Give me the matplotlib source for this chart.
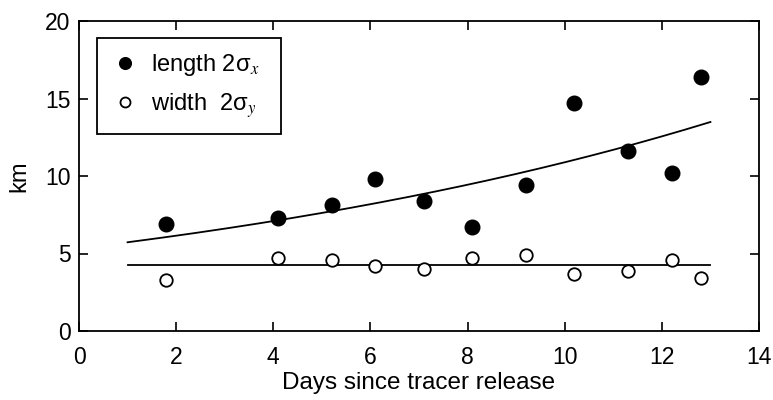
import numpy as np
import matplotlib
matplotlib.use("Agg")
import matplotlib.pyplot as plt

plt.rcParams['font.family'] = ['Liberation Sans', 'DejaVu Sans']
plt.rcParams['mathtext.fontset'] = 'stix'

# days since release
days = [1.8, 4.1, 5.2, 6.1, 7.1, 8.1, 9.2, 10.2, 11.3, 12.2, 12.8]
length_km = [6.9, 7.3, 8.1, 9.8, 8.4, 6.7, 9.4, 14.7, 11.6, 10.2, 16.4]
width_km = [3.3, 4.7, 4.6, 4.2, 4.0, 4.7, 4.9, 3.7, 3.9, 4.6, 3.4]

# fitted curves
fit_days = [1, 13]
length_fit_a = 5.33      # km
length_fit_b = 0.0714    # 1/day
width_fit = 4.25         # km

fig = plt.figure(figsize=(7.73, 4.0), dpi=100)
ax = fig.add_axes([79/773, 1 - 331/400, 680/773, 310/400])

t = np.linspace(fit_days[0], fit_days[1], 200)
ax.plot(t, length_fit_a*np.exp(length_fit_b*t), color='k', lw=1.3)
ax.plot(fit_days, [width_fit, width_fit], color='k', lw=1.3)

ax.plot(days, length_km, 'o', color='k', ms=10.5, label='length 2σ$_{x}$  ')
ax.plot(days, width_km, 'o', mfc='white', mec='k', mew=1.3, ms=9, label='width  2σ$_{y}$  ')

ax.set_xlim(0, 14)
ax.set_ylim(0, 20)
ax.set_xticks(range(0, 15, 2))
ax.set_yticks(range(0, 21, 5))
ax.tick_params(direction='in', top=True, right=True, labelsize=16.5, length=6.5, width=1.2)
ax.tick_params(axis='x', pad=11)
ax.tick_params(axis='y', pad=6)
for s in ax.spines.values():
    s.set_linewidth(1.3)

ax.set_xlabel('Days since tracer release', fontsize=17.5, labelpad=2)
ax.set_ylabel('km', fontsize=17, labelpad=11)

leg = ax.legend(loc='upper left', bbox_to_anchor=(0.026, 0.945), fontsize=17,
                frameon=True, fancybox=False, edgecolor='k', framealpha=1,
                handletextpad=0.5, handlelength=1.2, borderpad=0.6, labelspacing=0.55,
                markerscale=0.8, borderaxespad=0)
leg.get_frame().set_linewidth(1.3)

fig.savefig('out.png', dpi=100)
